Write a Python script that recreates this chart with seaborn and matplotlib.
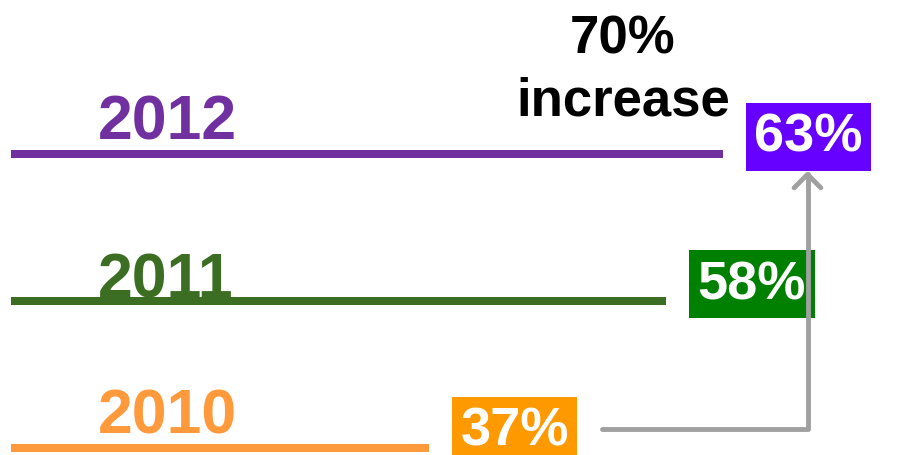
# Three years of share lines with value boxes and an "increase" arrow

import pandas as pd
import seaborn as sns
import matplotlib.pyplot as plt

# Data
years = ["2012", "2011", "2010"]
shares = [63, 58, 37]
line_colors = ["#7030A0", "#3B6E22", "#FF9A3C"]
box_colors = ["#6600FF", "#008000", "#FF9900"]
increase_text = ["70%", "increase"]

df = pd.DataFrame({"year": years, "share": shares})

sns.set_theme(style="white")
plt.rcParams["font.family"] = ["Liberation Sans", "DejaVu Sans"]

fig = plt.figure(figsize=(8.97, 4.56), dpi=100)
ax = fig.add_axes([0, 0, 1, 1])

# thin horizontal bars act as the lines
sns.barplot(data=df, x="share", y="year", hue="year", order=years,
            palette=dict(zip(years, line_colors)), orient="h",
            width=0.056, saturation=1, linewidth=0, legend=False, ax=ax)

# scale: pixels per percentage point and per row
px = 11.3
row = 147
ax.set_xlim(-11 / px, (897 - 11) / px)
ax.set_ylim(2 + 7 / row, -155 / row)
ax.set_axis_off()

# year labels above each line
lift = [15, 4, 15]
for i, (yr, c) in enumerate(zip(years, line_colors)):
    ax.text(87 / px, i - lift[i] / row, yr, color=c, fontsize=45,
            fontweight="bold", ha="left", va="baseline")

# value boxes at the end of each line
gap = 2
box_fs = 39
box_pad = 0.16
pad = box_pad * box_fs * 100 / 72 / px
for i, (v, bc) in enumerate(zip(shares, box_colors)):
    ax.text(v + gap + pad, i - 17 / row, f"{v}%", color="white", fontsize=box_fs,
            fontweight="bold", ha="left", va="center",
            bbox=dict(boxstyle=f"square,pad={box_pad}", fc=bc, ec="none"))

# arrow from the 2010 box up to the 2012 box
box_w = 124 / px
ax.annotate("", xy=(shares[0] + gap + box_w / 2, 0 + 17 / row),
            xytext=(shares[2] + gap + box_w + 26 / px, 2 - 19 / row),
            arrowprops=dict(arrowstyle="->,head_length=0.8,head_width=0.8",
                            color="#A0A0A0", lw=3.5, shrinkA=0, shrinkB=0,
                            connectionstyle="angle,angleA=0,angleB=90,rad=0"))

# "70% increase" note
ax.text(623 / 897, 1 - 53 / 456, increase_text[0], transform=ax.transAxes,
        ha="center", va="baseline", fontsize=38, fontweight="bold", color="black")
ax.text(623 / 897, 1 - 115 / 456, increase_text[1], transform=ax.transAxes,
        ha="center", va="baseline", fontsize=38, fontweight="bold", color="black")

fig.savefig("out.png", dpi=100)
